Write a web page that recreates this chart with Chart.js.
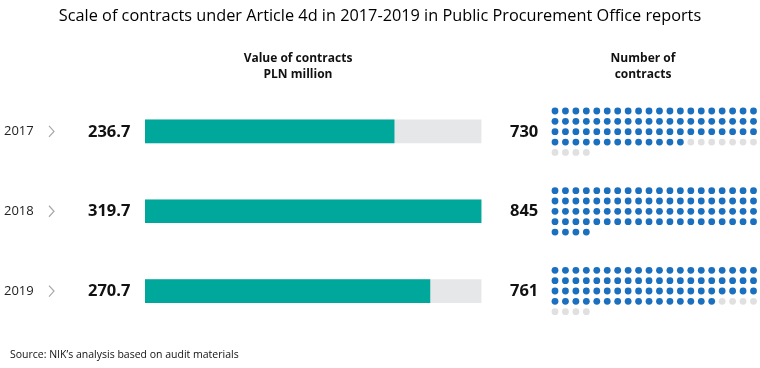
<!DOCTYPE html>
<html>
<head>
<meta charset="utf-8">
<script src="https://cdn.jsdelivr.net/npm/chart.js@4/dist/chart.umd.min.js"></script>
<style>
  body { margin: 0; background: #fff; }
  #wrap { position: relative; width: 760px; height: 368px; overflow: hidden; font-family: 'Open Sans', sans-serif; color: #111; }
  #wrap canvas { position: absolute; left: 0; top: 0; }
  .title { position: absolute; left: 0; top: 4px; width: 760px; text-align: center; font-size: 16.3px; color: #000; white-space: nowrap; }
  .head { position: absolute; top: 50px; width: 200px; text-align: center; font-size: 12px; font-weight: bold; line-height: 16px; }
  .source { position: absolute; left: 10px; top: 347px; font-size: 10.5px; white-space: nowrap; }
</style>
</head>
<body>
<div id="wrap">
  <canvas id="bars" width="760" height="368"></canvas>
  <canvas id="dots" width="760" height="368"></canvas>
  <div class="title">Scale of contracts under Article 4d in 2017-2019 in Public Procurement Office reports</div>
  <div class="head" style="left: 198px;">Value of contracts<br>PLN million</div>
  <div class="head" style="left: 543px;">Number of<br>contracts</div>
  <div class="source">Source: NIK’s analysis based on audit materials</div>
</div>
<script>
const years = ['2017', '2018', '2019'];
const values = [236.7, 319.7, 270.7];   // PLN million
const counts = [730, 845, 761];         // number of contracts

const valueMax = Math.max(...values);
const dotUnit = 10;     // contracts per dot
const dotCols = 20;
const dotTotal = 84;    // cells in each grid
const groupStep = 7.7;  // rows between the start of two grids

const teal = '#00a79b';
const track = '#e6e7e8';
const blue = '#1a6fbe';
const dotGrey = '#e0e0e0';

// chevrons, values and counts next to each row
const sideLabels = {
    id: 'sideLabels',
    afterDraw(chart) {
        const { ctx } = chart;
        const y = chart.scales.y;

        ctx.save();
        years.forEach((year, i) => {
            const py = y.getPixelForValue(i);

            ctx.strokeStyle = '#a8a8a8';
            ctx.lineWidth = 1.2;
            ctx.beginPath();
            ctx.moveTo(49, py - 5.5);
            ctx.lineTo(54, py);
            ctx.lineTo(49, py + 5.5);
            ctx.stroke();

            ctx.fillStyle = '#111';
            ctx.font = 'bold 16.5px "Open Sans"';
            ctx.textAlign = 'left';
            ctx.textBaseline = 'middle';
            ctx.fillText(values[i].toFixed(1), 88, py + 0.5);
            ctx.fillText(String(counts[i]), 510, py + 0.5);
        });
        ctx.restore();
    }
};

new Chart(document.getElementById('bars'), {
    type: 'bar',
    data: {
        labels: years,
        datasets: [
            { data: values, backgroundColor: teal, barThickness: 23, grouped: false, order: 0 },
            { data: years.map(() => valueMax), backgroundColor: track, barThickness: 23, grouped: false, order: 1 },
        ],
    },
    options: {
        indexAxis: 'y',
        responsive: false,
        animation: false,
        layout: { padding: { left: 4, right: 278.5, top: 91.5, bottom: 37 } },
        plugins: { legend: { display: false }, tooltip: { enabled: false } },
        scales: {
            x: { display: false, min: 0, max: valueMax },
            y: {
                grid: { display: false },
                border: { display: false },
                ticks: { crossAlign: 'far', color: '#222', font: { family: 'Open Sans', size: 13 } },
                afterFit(scale) { scale.width = 141; },
            },
        },
    },
    plugins: [sideLabels],
});

const filledDots = [];
const emptyDots = [];
counts.forEach((count, g) => {
    const filled = Math.floor(count / dotUnit);
    for (let k = 0; k < dotTotal; k++) {
        const point = { x: k % dotCols, y: g * groupStep + Math.floor(k / dotCols) };
        (k < filled ? filledDots : emptyDots).push(point);
    }
});

new Chart(document.getElementById('dots'), {
    type: 'scatter',
    data: {
        datasets: [
            { data: filledDots, backgroundColor: blue, pointRadius: 3.4, borderWidth: 0, clip: false },
            { data: emptyDots, backgroundColor: dotGrey, pointRadius: 3.4, borderWidth: 0, clip: false },
        ],
    },
    options: {
        responsive: false,
        animation: false,
        layout: { padding: { left: 555, right: 6.5, top: 111, bottom: 56.3 } },
        plugins: { legend: { display: false }, tooltip: { enabled: false } },
        scales: {
            x: { display: false, min: 0, max: dotCols - 1 },
            y: { display: false, reverse: true, min: 0, max: 2 * groupStep + 4 },
        },
    },
});
</script>
</body>
</html>
